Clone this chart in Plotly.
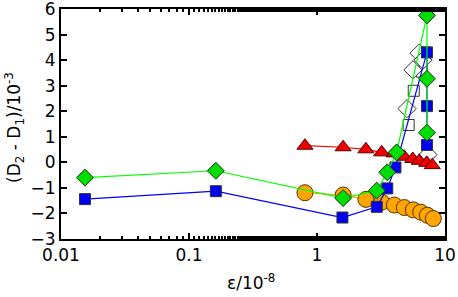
import plotly.graph_objects as go

# Green diamonds
green_x = [0.0154, 0.162, 1.60, 2.93, 3.54, 4.19, 7.23, 7.23, 7.23]
green_y = [-0.60, -0.33, -1.40, -1.11, -0.39, 0.39, 5.75, 3.27, 1.16]
# Blue squares
blue_x = [0.0154, 0.162, 1.58, 2.93, 3.54, 4.10, 7.23, 7.23, 7.23]
blue_y = [-1.44, -1.13, -2.16, -1.74, -1.02, -0.20, 4.30, 2.20, 0.68]
# Orange circles
orange_x = [0.805, 1.60, 2.41, 3.20, 4.02, 4.81, 5.65, 6.46, 7.28, 8.11]
orange_y = [-1.19, -1.28, -1.45, -1.56, -1.67, -1.77, -1.86, -1.95, -2.07, -2.20]
# Red triangles
red_x = [0.805, 1.60, 2.41, 3.20, 4.02, 4.80, 5.60, 6.30, 7.20, 7.95]
red_y = [0.65, 0.59, 0.51, 0.39, 0.35, 0.22, 0.13, 0.06, -0.02, -0.11]
# Open squares
osq_x = [5.20, 5.70, 6.60, 6.95]
osq_y = [1.46, 2.80, 3.55, 4.30]
# Open diamonds
odm_x = [5.05, 5.62, 6.27, 6.73, 7.36]
odm_y = [2.10, 3.62, 4.27, 4.00, 0.30]

x_ticks = [0.01, 0.1, 1, 10]
x_ticktext = ["0.01", "0.1", "1", "10"]
y_ticks = [-3, -2, -1, 0, 1, 2, 3, 4, 5, 6]

x_title = "ε/10<sup>-8</sup>"
y_title = "(D<sub>2</sub> - D<sub>1</sub>)/10<sup>-3</sup>"

fig = go.Figure()

fig.add_trace(go.Scatter(x=osq_x, y=osq_y, mode="markers",
                         marker=dict(symbol="square", size=11, color="white",
                                     line=dict(color="#333333", width=1))))
fig.add_trace(go.Scatter(x=odm_x, y=odm_y, mode="markers",
                         marker=dict(symbol="diamond", size=14, color="white",
                                     line=dict(color="#333333", width=1))))
fig.add_trace(go.Scatter(x=red_x, y=red_y, mode="lines+markers",
                         line=dict(color="#ff0000", width=1.2),
                         marker=dict(symbol="triangle-up", size=14, color="#ee0000",
                                     line=dict(color="#550000", width=1))))
fig.add_trace(go.Scatter(x=orange_x, y=orange_y, mode="lines+markers",
                         line=dict(color="#ffa500", width=1.2),
                         marker=dict(symbol="circle", size=16, color="#ffa500",
                                     line=dict(color="#553300", width=1))))
fig.add_trace(go.Scatter(x=blue_x, y=blue_y, mode="lines+markers",
                         line=dict(color="#0000ff", width=1.2),
                         marker=dict(symbol="square", size=11, color="#0000ee",
                                     line=dict(color="#333333", width=1))))
fig.add_trace(go.Scatter(x=green_x, y=green_y, mode="lines+markers",
                         line=dict(color="#00ff00", width=1.2),
                         marker=dict(symbol="diamond", size=13, color="#00dd00",
                                     line=dict(color="#113311", width=1))))

font = dict(family="DejaVu Sans, sans-serif", size=17, color="black")

fig.update_layout(
    width=458, height=297,
    margin=dict(l=61, r=13, t=9, b=58, autoexpand=False),
    paper_bgcolor="white", plot_bgcolor="white",
    showlegend=False,
    font=font,
    xaxis=dict(type="log", range=[-2, 1], tickvals=x_ticks, ticktext=x_ticktext,
               ticks="inside", ticklen=6, tickwidth=1.5, tickcolor="black",
               showline=True, linewidth=2, linecolor="black", mirror="ticks",
               showgrid=False, zeroline=False, automargin=False,
               ticklabeloverflow="allow",
               minor=dict(ticks="inside", ticklen=3, tickwidth=1.5, tickcolor="black",
                          showgrid=False),
               tickfont=font),
    yaxis=dict(range=[-3, 6], tickvals=y_ticks,
               ticks="inside", ticklen=6, tickwidth=1.5, tickcolor="black",
               showline=True, linewidth=2, linecolor="black", mirror="ticks",
               showgrid=False, zeroline=False, automargin=False,
               ticklabeloverflow="allow",
               tickfont=font),
    annotations=[
        dict(text=x_title, xref="paper", yref="paper", x=0.495, y=-0.185,
             xanchor="center", yanchor="middle", showarrow=False, font=font),
        dict(text=y_title, xref="paper", yref="paper", x=-0.12, y=0.487,
             xanchor="center", yanchor="middle", showarrow=False, font=font,
             textangle=-90),
    ],
)

fig.write_html("out.html",
               config={"displayModeBar": False},
               post_script="document.body.style.margin='0';document.body.style.padding='0';")
